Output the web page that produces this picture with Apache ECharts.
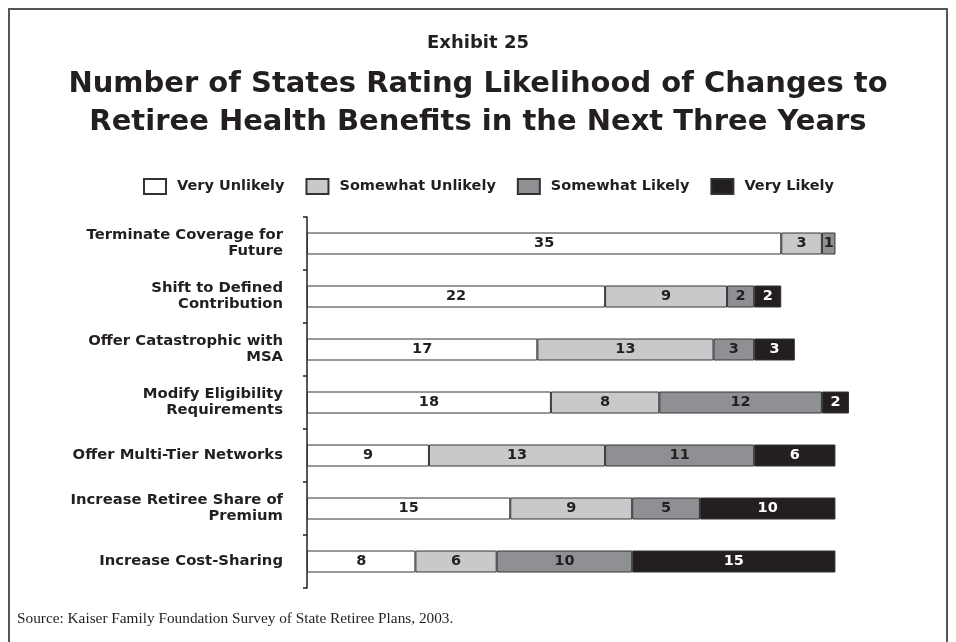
<!DOCTYPE html>
<html>
<head>
<meta charset="utf-8">
<script src="https://cdn.jsdelivr.net/npm/echarts@6/dist/echarts.min.js"></script>
<style>
  html, body { margin: 0; padding: 0; background: #fff; }
  #chart { width: 956px; height: 642px; }
</style>
</head>
<body>
<div id="chart"></div>
<script>
// Survey responses: number of states per likelihood rating
const categories = [
  'Terminate Coverage for\nFuture',
  'Shift to Defined\nContribution',
  'Offer Catastrophic with\nMSA',
  'Modify Eligibility\nRequirements',
  'Offer Multi-Tier Networks',
  'Increase Retiree Share of\nPremium',
  'Increase Cost-Sharing'
];
const seriesNames = ['Very Unlikely', 'Somewhat Unlikely', 'Somewhat Likely', 'Very Likely'];
const veryUnlikely     = [35, 22, 17, 18, 9, 15, 8];
const somewhatUnlikely = [3, 9, 13, 8, 13, 9, 6];
const somewhatLikely   = [1, 2, 3, 12, 11, 5, 10];
const veryLikely       = [null, 2, 3, 2, 6, 10, 15];

const values = [veryUnlikely, somewhatUnlikely, somewhatLikely, veryLikely];
const fills = ['#ffffff', '#c8c9cb', '#8f9093', '#231f20'];
const textColors = ['#231f20', '#231f20', '#231f20', '#ffffff'];
const boldFont = 'DejaVu Sans';

const chart = echarts.init(document.getElementById('chart'));

const series = values.map((data, i) => ({
  name: seriesNames[i],
  type: 'bar',
  stack: 'total',
  data: data,
  barWidth: 22,
  itemStyle: { color: fills[i], borderColor: '#333333', borderWidth: 1 },
  label: {
    show: true,
    position: 'inside',
    formatter: p => (p.value ? String(p.value) : ''),
    color: textColors[i],
    fontFamily: boldFont,
    fontWeight: 'bold',
    fontSize: 14.5
  },
  emphasis: { disabled: true }
}));

chart.setOption({
  animation: false,
  backgroundColor: '#ffffff',
  title: [
    {
      text: 'Exhibit 25',
      left: 'center',
      top: 29,
      textStyle: { fontFamily: boldFont, fontWeight: 'bold', fontSize: 18, color: '#231f20' }
    },
    {
      text: 'Number of States Rating Likelihood of Changes to\nRetiree Health Benefits in the Next Three Years',
      left: 'center',
      top: 60,
      textStyle: { fontFamily: boldFont, fontWeight: 'bold', fontSize: 29, lineHeight: 38, color: '#231f20', align: 'center' }
    }
  ],
  legend: {
    data: seriesNames,
    top: 178,
    left: 143,
    padding: 0,
    icon: 'rect',
    itemWidth: 22,
    itemHeight: 15,
    itemGap: 21,
    textStyle: { fontFamily: boldFont, fontWeight: 'bold', fontSize: 14.5, color: '#231f20', padding: [0, 0, 0, 6] }
  },
  grid: { left: 307, top: 217, width: 542, height: 371, containLabel: false },
  xAxis: {
    type: 'value',
    min: 0,
    max: 40,
    show: false
  },
  yAxis: {
    type: 'category',
    data: categories,
    inverse: true,
    axisLine: { show: true, lineStyle: { color: '#231f20', width: 1.5 } },
    axisTick: { show: true, length: 4, lineStyle: { color: '#231f20', width: 1.5 } },
    axisLabel: {
      margin: 24,
      fontFamily: boldFont,
      fontWeight: 'bold',
      fontSize: 14.8,
      lineHeight: 16,
      color: '#231f20',
      align: 'right'
    }
  },
  series: series,
  graphic: [
    {
      type: 'rect',
      shape: { x: 9, y: 9, width: 938, height: 660 },
      style: { fill: null, stroke: '#555555', lineWidth: 2 },
      silent: true
    },
    {
      type: 'text',
      left: 17,
      top: 611,
      style: {
        text: 'Source: Kaiser Family Foundation Survey of State Retiree Plans, 2003.',
        font: '15.3px "Liberation Serif"',
        fill: '#231f20'
      }
    }
  ]
});
</script>
</body>
</html>
